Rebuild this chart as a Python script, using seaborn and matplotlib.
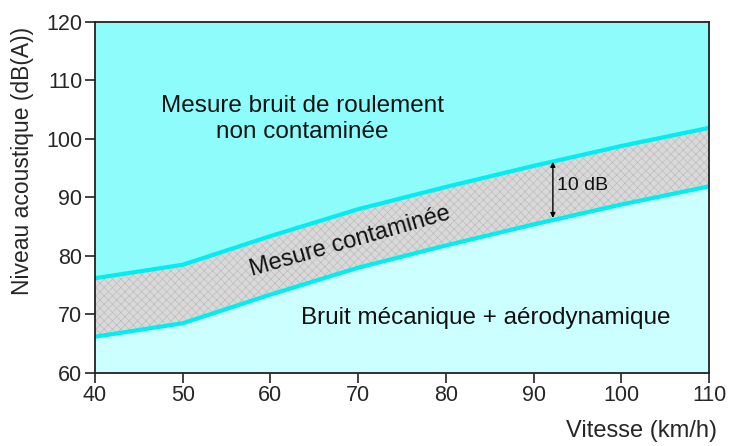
import matplotlib
matplotlib.use("Agg")
import matplotlib.pyplot as plt
import seaborn as sns
import pandas as pd

speed = [40, 50, 60, 70, 80, 90, 100, 110]
contaminated_top = [76.2, 78.5, 83.4, 88.0, 91.8, 95.4, 98.8, 101.9]
contaminated_bottom = [66.2, 68.5, 73.4, 78.0, 81.8, 85.4, 88.8, 91.9]

x_ticks = [40, 50, 60, 70, 80, 90, 100, 110]
y_ticks = [60, 70, 80, 90, 100, 110, 120]

sns.set_style("ticks")
plt.rcParams["font.family"] = ["Liberation Sans", "DejaVu Sans"]

df = pd.DataFrame({"speed": speed, "top": contaminated_top, "bottom": contaminated_bottom})

fig = plt.figure(figsize=(7.29, 4.46), dpi=100)
ax = fig.add_axes([0.1303, 0.1637, 0.8423, 0.787])

# zones
ax.fill_between(df["speed"], df["top"], 120, color="#8ffcfc", lw=0)
ax.fill_between(df["speed"], 60, df["bottom"], color="#ccffff", lw=0)
plt.rcParams["hatch.color"] = "#bcbcbc"
plt.rcParams["hatch.linewidth"] = 0.5
ax.fill_between(df["speed"], df["bottom"], df["top"], facecolor="#d9d9d9",
                hatch="xxxx", edgecolor="#bdbdbd", lw=0)

sns.lineplot(data=df, x="speed", y="top", color="#00eef0", lw=3, ax=ax)
sns.lineplot(data=df, x="speed", y="bottom", color="#00eef0", lw=3, ax=ax)

ax.set_xlim(40, 110)
ax.set_ylim(60, 120)
ax.set_xticks(x_ticks)
ax.set_yticks(y_ticks)
ax.tick_params(labelsize=15.5, length=7, width=1.2, color="#222222", pad=2)
for s in ax.spines.values():
    s.set_linewidth(1.3)
    s.set_color("#222222")
    s.set_visible(True)

ax.set_xlabel("")
ax.set_ylabel("Niveau acoustique (dB(A))", fontsize=16.5)
ax.yaxis.set_label_coords(-0.1, 0.605)
fig.text(0.983, 0.008, "Vitesse (km/h)", ha="right", va="bottom", fontsize=17)

ax.text(63.6, 103.4, "Mesure bruit de roulement\nnon contaminée", ha="center", va="center",
        fontsize=17.5, linespacing=1.25, color="#111111")
ax.text(84.6, 69.4, "Bruit mécanique + aérodynamique", ha="center", va="center",
        fontsize=17.5, color="#111111")
ax.text(69.1, 82.4, "Mesure contaminée", ha="center", va="center", rotation=16,
        fontsize=17, color="#111111")

ax.annotate("", xy=(92.2, 86.5), xytext=(92.2, 96.1),
            arrowprops=dict(arrowstyle="<|-|>", color="black", lw=1, shrinkA=0, shrinkB=0,
                            mutation_scale=7))
ax.text(92.7, 92.0, "10 dB", ha="left", va="center", fontsize=14, color="#111111")

fig.savefig("out.png", dpi=100)
